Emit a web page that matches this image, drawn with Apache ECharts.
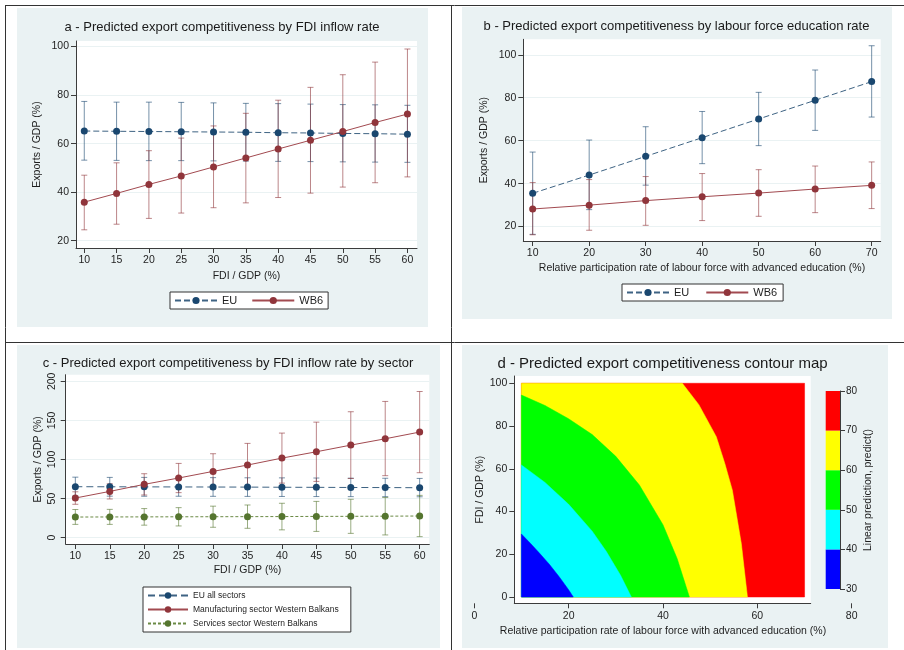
<!DOCTYPE html>
<html>
<head>
<meta charset="utf-8">
<script src="https://cdn.jsdelivr.net/npm/echarts@6/dist/echarts.min.js"></script>
<style>
html,body{margin:0;padding:0;background:#ffffff;}
#chart{width:904px;height:650px;}
</style>
</head>
<body>
<div id="chart"></div>
<script>
// ---- a: predicted exports by FDI inflow rate ----
const fdiLevels = [10, 15, 20, 25, 30, 35, 40, 45, 50, 55, 60];
const euByFdi      = [65.2, 65.1, 65.0, 64.9, 64.8, 64.7, 64.5, 64.4, 64.2, 64.1, 63.9];
const euByFdiLow   = [53.2, 53.1, 53.0, 53.0, 52.9, 52.8, 52.7, 52.6, 52.5, 52.4, 52.3];
const euByFdiHigh  = [77.4, 77.1, 77.1, 77.0, 76.8, 76.6, 76.5, 76.3, 76.1, 76.0, 75.8];
const wb6ByFdi     = [35.9, 39.5, 43.2, 46.7, 50.4, 54.1, 57.8, 61.4, 65.0, 68.7, 72.2];
const wb6ByFdiLow  = [24.5, 26.8, 29.2, 31.4, 33.6, 35.6, 37.8, 39.6, 42.1, 43.9, 46.3];
const wb6ByFdiHigh = [47.0, 52.1, 57.1, 62.3, 67.3, 72.5, 77.9, 83.2, 88.4, 93.6, 99.0];
const exportTicksA = [20, 40, 60, 80, 100];

// ---- b: predicted exports by labour force education rate ----
const eduLevels = [10, 20, 30, 40, 50, 60, 70];
const euByEdu      = [35.5, 44.0, 52.7, 61.4, 70.1, 78.8, 87.5];
const euByEduLow   = [16.4, 27.9, 39.3, 49.3, 57.7, 64.8, 71.0];
const euByEduHigh  = [54.7, 60.3, 66.5, 73.6, 82.5, 92.9, 104.2];
const wb6ByEdu     = [28.2, 30.0, 32.1, 33.9, 35.6, 37.5, 39.2];
const wb6ByEduLow  = [16.2, 18.3, 20.6, 22.8, 24.8, 26.5, 28.4];
const wb6ByEduHigh = [40.5, 41.9, 43.3, 44.7, 46.5, 48.2, 50.1];
const exportTicksB = [20, 40, 60, 80, 100];

// ---- c: predicted exports by FDI inflow rate, by sector ----
const euAll       = [65.2, 65.1, 65.0, 64.9, 64.8, 64.7, 64.5, 64.4, 64.2, 64.1, 63.9];
const euAllLow    = [53.2, 53.1, 53.0, 53.0, 52.9, 52.8, 52.7, 52.6, 52.5, 52.4, 52.3];
const euAllHigh   = [77.4, 77.1, 77.1, 77.0, 76.8, 76.6, 76.5, 76.3, 76.1, 76.0, 75.8];
const manuf       = [50.7, 59.2, 68.2, 76.3, 84.8, 92.9, 101.8, 109.9, 118.4, 126.5, 135.1];
const manufLow    = [42.7, 49.5, 54.6, 57.6, 62.2, 65.2, 69.8, 72.0, 75.7, 79.3, 83.1];
const manufHigh   = [58.7, 69.0, 81.8, 95.0, 107.4, 120.6, 133.8, 147.8, 161.1, 174.3, 187.0];
const services    = [26.4, 26.5, 26.6, 26.7, 26.8, 26.9, 27.0, 27.2, 27.3, 27.5, 27.7];
const servicesLow = [17.0, 17.0, 16.0, 15.0, 13.3, 12.0, 10.0, 8.0, 5.5, 3.5, 1.3];
const servicesHigh= [36.0, 36.2, 37.2, 38.4, 40.3, 41.8, 44.0, 46.4, 49.1, 51.5, 54.1];
const exportTicksC = [0, 50, 100, 150, 200];

// ---- d: contour map of the linear prediction ----
const contourLevels = [30, 40, 50, 60, 70, 80];
const contourColors = ['#0000ff', '#00ffff', '#00ff00', '#ffff00', '#ff0000'];
const eduSpan = [10, 70];
const fdiSpan = [0, 100];
// level curves as (education %, FDI %) points
const edge40 = [[10, 29.5], [12, 24.9], [14, 20.1], [16, 15.1], [18, 9.5], [20, 3.4], [21, 0]];
const edge50 = [[10, 61.8], [15, 53.6], [20, 43.4], [25, 30.8], [28, 21.3], [31, 10.2], [33.3, 0]];
const edge60 = [[10, 94.5], [15, 89.6], [20, 83.4], [25, 76.0], [30, 65.8], [35, 52.4], [40, 33.8], [43, 18.0], [45.6, 0]];
const edge70 = [[44.1, 100], [47.6, 90], [51.3, 75], [53.1, 62.5], [54.7, 50], [56.6, 25], [57.9, 0]];
const contourTicksX = [0, 20, 40, 60, 80];
const contourTicksY = [0, 20, 40, 60, 80, 100];

// ---- styling ----
const NAVY = '#1a476f', MAROON = '#90353b', FOREST = '#55752f';
const PANEL_BG = '#eaf2f3';
const INK = '#1e1e1e', AXIS = '#3c3c3c';
const FONT = '"Liberation Sans", Arial, sans-serif';

function zip(xs, ys) { return xs.map((x, i) => [x, ys[i]]); }

function ciSeries(xs, lo, hi, color, idx) {
  return {
    type: 'custom', xAxisIndex: idx, yAxisIndex: idx, silent: true, z: 2,
    data: xs.map((x, i) => [x, lo[i], hi[i]]),
    encode: { x: 0, y: [1, 2] },
    renderItem(params, api) {
      const x = api.value(0);
      const a = api.coord([x, api.value(1)]);
      const b = api.coord([x, api.value(2)]);
      const w = 3;
      const st = { stroke: color, lineWidth: 1 };
      return { type: 'group', children: [
        { type: 'line', shape: { x1: a[0], y1: a[1], x2: b[0], y2: b[1] }, style: st },
        { type: 'line', shape: { x1: a[0] - w, y1: a[1], x2: a[0] + w, y2: a[1] }, style: st },
        { type: 'line', shape: { x1: b[0] - w, y1: b[1], x2: b[0] + w, y2: b[1] }, style: st }
      ]};
    }
  };
}

function lineSeries(name, xs, ys, color, dash, idx, lineColor) {
  return {
    name, type: 'line', xAxisIndex: idx, yAxisIndex: idx, z: 3,
    data: zip(xs, ys), symbol: 'circle', symbolSize: 7,
    itemStyle: { color },
    lineStyle: { color: lineColor || color, width: 1, type: dash },
    emphasis: { disabled: true }, animation: false
  };
}

function polySeries(points, color) {
  return {
    type: 'custom', xAxisIndex: 3, yAxisIndex: 3, silent: true, z: 2,
    data: points,
    renderItem(params, api) {
      if (params.dataIndex !== 0) return null;
      return { type: 'polygon', shape: { points: points.map(p => api.coord(p)) },
               style: { fill: color, stroke: color, lineWidth: 0.5 } };
    }
  };
}

function valAxis(idx, min, max, ticks, extra) {
  return Object.assign({
    type: 'value', gridIndex: idx, min, max,
    axisLine: { show: true, onZero: false, lineStyle: { color: AXIS, width: 1 } },
    axisTick: { show: true, length: 5, inside: false, customValues: ticks, lineStyle: { color: AXIS } },
    axisLabel: { customValues: ticks, color: INK, fontSize: 10.5, fontFamily: FONT, margin: 7 },
    splitLine: { show: true, lineStyle: { color: PANEL_BG, width: 1 } },
    nameTextStyle: { color: INK, fontSize: 10.5, fontFamily: FONT },
    nameLocation: 'middle'
  }, extra || {});
}

const titleStyle = { color: '#1a1a1a', fontSize: 13, fontWeight: 'normal', fontFamily: FONT };

// level regions, widest first so narrower ones sit on top
const regionRed = [[eduSpan[0], fdiSpan[0]], [eduSpan[0], fdiSpan[1]], [eduSpan[1], fdiSpan[1]], [eduSpan[1], fdiSpan[0]]];
const regionYellow = [[eduSpan[0], fdiSpan[0]], [eduSpan[0], fdiSpan[1]]].concat(edge70);
const regionGreen = [[eduSpan[0], fdiSpan[0]]].concat(edge60);
const regionCyan = [[eduSpan[0], fdiSpan[0]]].concat(edge50);
const regionBlue = [[eduSpan[0], fdiSpan[0]]].concat(edge40);

const option = {
  animation: false,
  graphic: { elements: [
    { type: 'rect', z: -100, shape: { x: 17, y: 8, width: 411, height: 319 }, style: { fill: PANEL_BG } },
    { type: 'rect', z: -100, shape: { x: 462, y: 7, width: 430, height: 312 }, style: { fill: PANEL_BG } },
    { type: 'rect', z: -100, shape: { x: 17, y: 345, width: 423, height: 303 }, style: { fill: PANEL_BG } },
    { type: 'rect', z: -100, shape: { x: 462, y: 345, width: 426, height: 303 }, style: { fill: PANEL_BG } },
    { type: 'line', z: 50, shape: { x1: 5, y1: 5.5, x2: 904, y2: 5.5 }, style: { stroke: '#333', lineWidth: 1 } },
    { type: 'line', z: 50, shape: { x1: 5.5, y1: 5, x2: 5.5, y2: 650 }, style: { stroke: '#333', lineWidth: 1 } },
    { type: 'line', z: 50, shape: { x1: 451.5, y1: 5, x2: 451.5, y2: 650 }, style: { stroke: '#333', lineWidth: 1 } },
    { type: 'line', z: 50, shape: { x1: 5, y1: 342.5, x2: 904, y2: 342.5 }, style: { stroke: '#333', lineWidth: 1 } }
  ]},
  title: [
    { text: 'a - Predicted export competitiveness by FDI inflow rate', left: 222, top: 21, textAlign: 'center', padding: 0, textStyle: titleStyle },
    { text: 'b - Predicted export competitiveness by labour force education rate', left: 676.5, top: 20, textAlign: 'center', padding: 0, textStyle: titleStyle },
    { text: 'c - Predicted export competitiveness by FDI inflow rate by sector', left: 228, top: 356.5, textAlign: 'center', padding: 0, textStyle: titleStyle },
    { text: 'd - Predicted export competitiveness contour map', left: 662.5, top: 356, textAlign: 'center', padding: 0, textStyle: Object.assign({}, titleStyle, { fontSize: 15 }) }
  ],
  legend: [
    { data: ['EU', 'WB6'], left: 170, top: 292, itemWidth: 42, itemHeight: 9, itemGap: 14,
      padding: [3, 5, 3, 4], borderColor: '#333', borderWidth: 1, backgroundColor: '#fff', borderRadius: 0,
      textStyle: { color: INK, fontSize: 11, fontFamily: FONT }, selectedMode: false },
    { data: ['EU', 'WB6'], left: 622, top: 284, itemWidth: 42, itemHeight: 9, itemGap: 16,
      padding: [3, 6, 3, 4], borderColor: '#333', borderWidth: 1, backgroundColor: '#fff', borderRadius: 0,
      textStyle: { color: INK, fontSize: 11, fontFamily: FONT }, selectedMode: false },
    { data: ['EU all sectors', 'Manufacturing sector Western Balkans', 'Services sector Western Balkans'],
      orient: 'vertical', left: 143, top: 587, itemWidth: 40, itemHeight: 8, itemGap: 5,
      padding: [4, 12, 4, 4], borderColor: '#333', borderWidth: 1, backgroundColor: '#fff', borderRadius: 0,
      textStyle: { color: INK, fontSize: 8.5, fontFamily: FONT }, selectedMode: false }
  ],
  grid: [
    { left: 76, top: 41, width: 341, height: 207, show: true, backgroundColor: '#fff', borderWidth: 0 },
    { left: 523.3, top: 39.3, width: 357.4, height: 201.7, show: true, backgroundColor: '#fff', borderWidth: 0 },
    { left: 65.7, top: 374.7, width: 363.6, height: 169.3, show: true, backgroundColor: '#fff', borderWidth: 0 },
    { left: 514.3, top: 376, width: 296.4, height: 227.3, show: true, backgroundColor: '#fff', borderWidth: 0 },
    { left: 474.3, top: 376, width: 377.4, height: 227.3, show: false },
    { left: 825.7, top: 391, width: 14.3, height: 198, show: false }
  ],
  xAxis: [
    valAxis(0, 8.72, 61.48, fdiLevels, { name: 'FDI / GDP (%)', nameGap: 22.5, splitLine: { show: false } }),
    valAxis(1, 8.34, 71.6, eduLevels, { name: 'Relative participation rate of labour force with advanced education (%)', nameGap: 22, splitLine: { show: false } }),
    valAxis(2, 8.6, 61.4, fdiLevels, { name: 'FDI / GDP (%)', nameGap: 21, splitLine: { show: false } }),
    valAxis(3, 8.5, 71.3, [], { axisTick: { show: false }, axisLabel: { show: false }, splitLine: { show: false } }),
    valAxis(4, 0, 80, contourTicksX, { axisLine: { show: false }, splitLine: { show: false },
      name: 'Relative participation rate of labour force with advanced education (%)', nameGap: 22 }),
    { type: 'value', gridIndex: 5, min: 0, max: 1, show: false }
  ],
  yAxis: [
    valAxis(0, 17.0, 102.3, exportTicksA, { name: 'Exports / GDP (%)', nameGap: 33 }),
    valAxis(1, 13.3, 107.2, exportTicksB, { name: 'Exports / GDP (%)', nameGap: 34 }),
    valAxis(2, -8.1, 208.5, exportTicksC, { name: 'Exports / GDP (%)', nameGap: 22,
      axisLabel: { customValues: exportTicksC, rotate: 90, color: INK, fontSize: 10.5, fontFamily: FONT, margin: 8 } }),
    valAxis(3, -2.95, 103.4, contourTicksY, { name: 'FDI / GDP (%)', nameGap: 25, splitLine: { show: false } }),
    { type: 'value', gridIndex: 4, min: 0, max: 1, show: false },
    valAxis(5, 30, 80, contourLevels, { position: 'right', splitLine: { show: false },
      axisLabel: { customValues: contourLevels, color: INK, fontSize: 10, fontFamily: FONT, margin: 6 },
      name: 'Linear prediction, predict()', nameGap: 23, nameRotate: 90,
      nameTextStyle: { color: INK, fontSize: 10.5, fontFamily: FONT } })
  ],
  series: [
    // a
    ciSeries(fdiLevels, euByFdiLow, euByFdiHigh, 'rgba(26,71,111,0.6)', 0),
    ciSeries(fdiLevels, wb6ByFdiLow, wb6ByFdiHigh, 'rgba(144,53,59,0.6)', 0),
    lineSeries('EU', fdiLevels, euByFdi, NAVY, [6, 3], 0, '#3e6383'),
    lineSeries('WB6', fdiLevels, wb6ByFdi, MAROON, 'solid', 0, '#a24a50'),
    // b
    ciSeries(eduLevels, euByEduLow, euByEduHigh, 'rgba(26,71,111,0.6)', 1),
    ciSeries(eduLevels, wb6ByEduLow, wb6ByEduHigh, 'rgba(144,53,59,0.6)', 1),
    lineSeries('EU', eduLevels, euByEdu, NAVY, [6, 3], 1, '#3e6383'),
    lineSeries('WB6', eduLevels, wb6ByEdu, MAROON, 'solid', 1, '#a24a50'),
    // c
    ciSeries(fdiLevels, euAllLow, euAllHigh, 'rgba(26,71,111,0.6)', 2),
    ciSeries(fdiLevels, manufLow, manufHigh, 'rgba(144,53,59,0.6)', 2),
    ciSeries(fdiLevels, servicesLow, servicesHigh, 'rgba(85,117,47,0.6)', 2),
    lineSeries('EU all sectors', fdiLevels, euAll, NAVY, [7, 4], 2, '#3e6383'),
    lineSeries('Manufacturing sector Western Balkans', fdiLevels, manuf, MAROON, 'solid', 2, '#a24a50'),
    lineSeries('Services sector Western Balkans', fdiLevels, services, FOREST, [3, 2], 2, '#6b8a45'),
    // d
    polySeries(regionRed, contourColors[4]),
    polySeries(regionYellow, contourColors[3]),
    polySeries(regionGreen, contourColors[2]),
    polySeries(regionCyan, contourColors[1]),
    polySeries(regionBlue, contourColors[0]),
    {
      type: 'custom', xAxisIndex: 5, yAxisIndex: 5, silent: true,
      data: contourColors.map((c, i) => [0, contourLevels[i], contourLevels[i + 1], i]),
      renderItem(params, api) {
        const lo = api.coord([0, api.value(1)]);
        const hi = api.coord([1, api.value(2)]);
        return { type: 'rect', shape: { x: lo[0], y: hi[1], width: hi[0] - lo[0], height: lo[1] - hi[1] },
                 style: { fill: contourColors[api.value(3)] } };
      }
    }
  ]
};

const chart = echarts.init(document.getElementById('chart'), null, { renderer: 'canvas' });
chart.setOption(option);
</script>
</body>
</html>
